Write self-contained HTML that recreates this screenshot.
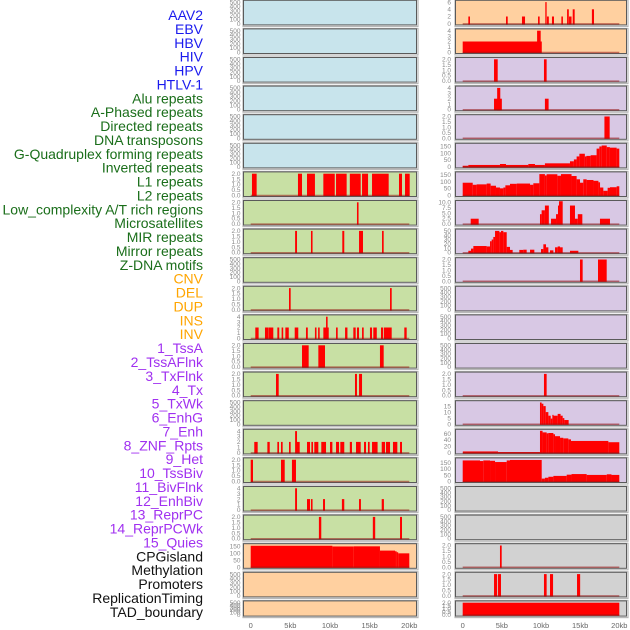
<!DOCTYPE html>
<html><head><meta charset="utf-8"><style>
html,body{margin:0;padding:0;background:#fff;}
svg{display:block;font-family:"Liberation Sans",sans-serif;}
</style></head><body>
<svg id="chart" width="630" height="630" viewBox="0 0 630 630" xmlns="http://www.w3.org/2000/svg">
<g id="labels"></g>
<g id="panels"></g>
<g id="xaxes"></g>
</svg>
<script>
const trackLabels = ["AAV2","EBV","HBV","HIV","HPV","HTLV-1","Alu repeats","A-Phased repeats","Directed repeats","DNA transposons","G-Quadruplex forming repeats","Inverted repeats","L1 repeats","L2 repeats","Low_complexity A/T rich regions","Microsatellites","MIR repeats","Mirror repeats","Z-DNA motifs","CNV","DEL","DUP","INS","INV","1_TssA","2_TssAFlnk","3_TxFlnk","4_Tx","5_TxWk","6_EnhG","7_Enh","8_ZNF_Rpts","9_Het","10_TssBiv","11_BivFlnk","12_EnhBiv","13_ReprPC","14_ReprPCWk","15_Quies","CPGisland","Methylation","Promoters","ReplicationTiming","TAD_boundary"];
const labelColors = ["#1a1aee","#1a6e1a","#ffa500","#a030f0","#111111"];
const labelGroups = [6,13,5,15,5];
const xTickValues = [0,5,10,15,20];
const xTickLabels = ["0","5kb","10kb","15kb","20kb"];
const ticksEmpty = [0,100,200,300,400,500];
const ticks2 = [0,0.5,1,1.5,2];
const ticks4 = [0,1,2,3,4];
const ticks6 = [0,2,4,6];
const ticks10 = [0,2.5,5,7.5,10];
const ticks50 = [0,10,20,30,40,50];
const ticks60 = [0,20,40,60];
const ticks15 = [0,5,10,15];
const ticks150 = [0,50,100,150];

// segments: [startKb, endKb, value]
const segAlu = [[0.16,0.75,2],[5.96,6.47,2],[7.1,8.1,2],[9.16,10.6,2],[10.76,12.1,2],[12.5,13.87,2],[14.04,14.8,2],[15.3,17.4,2],[18.7,19.08,2],[19.46,20.05,2]];
const segAPhased = [[13.4,13.6,2]];
const segDirected = [[5.6,5.84,2],[7.6,7.8,2],[11.55,11.8,2],[13.66,14.16,2],[16.56,16.77,2]];
const segGQuad = [[4.83,5.04,2],[17.57,17.78,2]];
const segInverted = [[0.58,1.0,2],[1.8,2.27,2],[2.3,2.85,2],[3.36,3.6,2],[3.9,4.1,2],[4.37,4.8,2],[5.55,6.0,2],[6.97,7.2,2],[8.1,8.3,2],[8.5,8.7,2],[9.16,9.84,2],[9.5,9.7,4],[10.76,10.97,2],[11.9,12.2,2],[12.94,13.24,2],[13.4,13.66,2],[14.04,14.25,2],[15.04,15.3,2],[15.46,15.9,2],[16.43,16.7,2],[16.8,17.78,2],[19.37,19.67,2]];
const segL1 = [[6.47,7.31,2],[8.53,9.37,2],[16.3,16.77,2]];
const segL2 = [[3.19,3.53,2],[13.15,13.4,2],[13.66,14.04,2]];
const segMicrosat = [[0.45,0.88,2],[2.1,2.4,2],[3.36,3.57,2],[3.82,4.03,2],[4.83,5.04,2],[5.6,5.84,4],[5.84,6.18,2],[7.1,7.48,2],[7.65,7.86,2],[8.02,8.53,2],[8.9,9.5,2],[10.0,10.3,2],[10.76,11.14,2],[11.3,11.8,2],[12.5,12.77,2],[13.28,13.87,2],[14.29,14.54,2],[14.79,15.0,2],[15.3,16.0,2],[16.52,16.94,2],[17.06,17.57,2],[17.94,18.49,2],[18.83,19.08,2]];
const segMIR = [[0,0.29,2],[3.82,4.29,2],[5.2,5.71,2]];
const segMirror = [[5.6,5.84,4],[7.1,7.48,2],[7.6,7.8,2],[9.12,9.37,2],[11.5,11.8,2],[13.66,13.9,2],[16.52,16.8,2]];
const segZDNA = [[8.6,8.9,2],[15.4,15.7,2],[18.83,19.08,2]];
const segCNV = [[0,10.3,155],[10.3,13,150],[13,16.3,151],[16.3,18.2,120],[18.2,18.4,115],[18.4,18.6,108],[18.6,20,100]];
const segINS = [[0.72,0.93,2],[5.53,5.75,2],[7.57,7.96,2],[9.62,9.83,2],[10.55,10.72,6],[10.76,11.0,2],[11.4,11.66,2],[12.6,12.8,2],[13.33,13.55,4],[13.58,13.9,2],[14.05,14.3,4],[16.5,16.77,4]];
const segINV = [[0,10.1,2],[9.5,9.96,4]];
const segTssA = [[4.0,4.47,2],[10.38,10.72,2]];
const segTssAFlnk = [[4.0,5.0,2],[4.4,4.8,4],[10.5,10.97,2]];
const segTxFlnk = [[18.1,18.77,2]];
const segTx = [[0,0.72,7],[0.72,4.76,13],[4.76,5.53,20],[5.53,8.38,13],[8.38,9.23,20],[9.23,10.5,13],[10.5,13.7,25],[13.7,14.2,40],[14.2,14.55,54],[14.55,14.9,76],[14.9,15.6,96],[15.6,15.8,76],[15.8,16.34,80],[16.34,17.1,85],[17.1,17.45,134],[17.45,17.75,150],[17.75,18.4,157],[18.4,18.8,145],[18.8,19.66,141],[19.66,20,134]];
const segTxWk = [[0,1.28,92],[1.28,1.78,77],[1.78,3.06,80],[3.06,3.57,86],[3.57,4.25,70],[4.25,4.76,57],[4.76,5.19,51],[5.19,5.45,57],[5.45,6.04,73],[6.04,6.9,84],[6.9,8.6,86],[8.6,9.02,77],[9.02,9.79,88],[9.79,10.5,155],[10.5,10.72,145],[10.72,12.09,154],[12.09,12.55,143],[12.55,13.9,155],[13.9,14.55,141],[14.55,14.98,117],[14.98,15.4,92],[15.4,15.83,117],[15.83,16.7,112],[16.7,17.33,106],[17.33,17.54,95],[17.54,17.96,57],[17.96,18.51,33],[18.51,18.81,55],[18.81,19.66,59],[19.66,20,66]];
const segEnhG = [[1.02,2.04,2.4],[9.87,10.08,4.5],[10.08,10.5,6.3],[10.5,11.0,8.5],[11.28,11.92,2.4],[11.92,12.17,4.5],[12.17,12.3,8.5],[12.3,12.77,10.5],[13.7,14.34,8.5],[14.34,14.7,2.4],[14.7,15.28,4.5],[17.53,18.81,2.4]];
const segEnh = [[0.72,1.06,4],[1.06,1.36,9],[1.36,3.06,15],[3.06,3.49,14],[3.49,3.7,26],[3.7,3.91,30],[3.91,4.13,36],[4.13,4.68,50],[4.68,4.89,47],[4.89,5.19,50],[5.19,5.62,47],[5.62,6.04,13],[6.04,6.38,6],[7.23,7.74,6],[7.74,8.17,6.5],[8.6,9.15,6.5],[10.0,10.3,8],[10.3,10.64,19],[10.64,10.94,12],[11.15,11.58,5],[11.79,12.13,12],[12.13,12.43,14],[12.43,12.77,12],[13.7,14.77,4]];
const segZNF = [[14.98,15.32,2],[17.28,18.39,2]];
const segReprPC = [[10.38,10.72,2]];
const segReprPCWk = [[9.87,10.08,18],[10.08,10.3,17],[10.3,10.6,15],[10.6,10.94,10],[10.94,11.24,7],[11.24,11.45,4.6],[11.45,11.58,7.7],[11.58,12.13,7],[12.13,12.5,8.5],[12.5,12.77,7],[12.77,12.98,5],[12.98,13.53,3.4]];
const segQuies = [[0.02,4.51,4],[4.51,9.87,2],[9.87,10.2,69],[10.2,10.72,64],[10.72,10.94,61],[10.94,11.58,62],[11.58,11.79,58],[11.79,12.43,52],[12.43,12.85,47],[12.85,13.49,45],[13.49,13.83,42],[13.83,18.6,37],[18.6,20,33]];
const segCPG = [[0,2.21,170],[2.21,2.63,165],[2.63,3.49,170],[3.49,4.13,167],[4.13,5.62,157],[5.62,6.04,170],[6.04,10.09,174],[10.09,10.5,22],[10.5,10.94,29],[10.94,11.58,37],[11.58,13.28,44],[13.28,13.9,54],[13.9,15.83,59],[15.83,18.4,52],[18.4,19.0,57],[19.0,20,52]];
const segMeth = [[4.76,4.98,2]];
const segPromoters = [[4.0,4.4,2],[4.51,4.89,2],[10.38,10.72,2],[11.15,11.54,2],[14.6,15.0,2]];
const segTAD = [[0,20,2]];

const fillBlue="#c8e4ec", fillGreen="#c8e0a4", fillPeach="#ffd0a0", fillPurple="#d8c8e4", fillGray="#d2d2d2";
// [column, row, fill, ymax, ticks, segments, name]
const panels = [
 [0,0,fillBlue,500,ticksEmpty,null,"aav2"],[0,1,fillBlue,500,ticksEmpty,null,"ebv"],[0,2,fillBlue,500,ticksEmpty,null,"hbv"],
 [0,3,fillBlue,500,ticksEmpty,null,"hiv"],[0,4,fillBlue,500,ticksEmpty,null,"hpv"],[0,5,fillBlue,500,ticksEmpty,null,"htlv1"],
 [0,6,fillGreen,2,ticks2,segAlu,"alu"],[0,7,fillGreen,2,ticks2,segAPhased,"a-phased"],[0,8,fillGreen,2,ticks2,segDirected,"directed"],
 [0,9,fillGreen,500,ticksEmpty,null,"dna-transposons"],[0,10,fillGreen,2,ticks2,segGQuad,"g-quadruplex"],[0,11,fillGreen,4,ticks4,segInverted,"inverted"],
 [0,12,fillGreen,2,ticks2,segL1,"l1"],[0,13,fillGreen,2,ticks2,segL2,"l2"],[0,14,fillGreen,500,ticksEmpty,null,"low-complexity"],
 [0,15,fillGreen,4,ticks4,segMicrosat,"microsatellites"],[0,16,fillGreen,2,ticks2,segMIR,"mir"],[0,17,fillGreen,4,ticks4,segMirror,"mirror"],
 [0,18,fillGreen,2,ticks2,segZDNA,"z-dna"],[0,19,fillPeach,157,ticks150,segCNV,"cnv"],[0,20,fillPeach,500,ticksEmpty,null,"del"],[0,21,fillPeach,500,ticksEmpty,null,"dup"],
 [1,0,fillPeach,6,ticks6,segINS,"ins"],[1,1,fillPeach,4,ticks4,segINV,"inv"],[1,2,fillPurple,2,ticks2,segTssA,"tssa"],
 [1,3,fillPurple,4,ticks4,segTssAFlnk,"tssaflnk"],[1,4,fillPurple,2,ticks2,segTxFlnk,"txflnk"],[1,5,fillPurple,160,ticks150,segTx,"tx"],
 [1,6,fillPurple,158,ticks150,segTxWk,"txwk"],[1,7,fillPurple,10,ticks10,segEnhG,"enhg"],[1,8,fillPurple,50,ticks50,segEnh,"enh"],
 [1,9,fillPurple,2,ticks2,segZNF,"znf-rpts"],[1,10,fillPurple,500,ticksEmpty,null,"het"],[1,11,fillPurple,500,ticksEmpty,null,"tssbiv"],
 [1,12,fillPurple,500,ticksEmpty,null,"bivflnk"],[1,13,fillPurple,2,ticks2,segReprPC,"enhbiv"],[1,14,fillPurple,18,ticks15,segReprPCWk,"reprpc"],
 [1,15,fillPurple,68,ticks60,segQuies,"reprpcwk"],[1,16,fillPurple,176,ticks150,segCPG,"quies"],[1,17,fillGray,500,ticksEmpty,null,"cpgisland"],
 [1,18,fillGray,500,ticksEmpty,null,"methylation"],[1,19,fillGray,2,ticks2,segMeth,"promoters"],[1,20,fillGray,2,ticks2,segPromoters,"replication-timing"],
 [1,21,fillGray,2,ticks2,segTAD,"tad-boundary"]
];

const NS="http://www.w3.org/2000/svg";
function mk(tag,attrs,parent){const e=document.createElementNS(NS,tag);for(const k in attrs)e.setAttribute(k,attrs[k]);parent.appendChild(e);return e;}
const colX=[[243.5,416.5],[455.5,626.5]];
const colX0=[250.7,462.7], colScale=[7.93,7.83];
function xScale(col,kb){return colX0[col]+kb*colScale[col];}
function rowTop(r){return 0.3+r*28.6;}
function rowH(r){return r===21?15.2:24.6;}

// labels
const gL=document.getElementById('labels');
let gi=0,cnt=0;
trackLabels.forEach((t,i)=>{
  const tx=mk('text',{x:203,y:15+i*13.88+5,'text-anchor':'end','font-size':'14',fill:labelColors[gi]},gL);
  tx.textContent=t;
  
  
  cnt++; if(cnt>=labelGroups[gi]){gi++;cnt=0;}
});

const gP=document.getElementById('panels');
panels.forEach(p=>{
  const [col,row,fill,ymax,ticks,segs,name]=p;
  const g=mk('g',{},gP);
  
  
  const x0=colX[col][0],x1=colX[col][1],top=rowTop(row),h=rowH(row),bot=top+h;
  const shadow=mk('rect',{x:x0-0.5,y:top-0.5,width:x1-x0+2,height:h+2,fill:'none',stroke:'#b8b8b8','stroke-width':1.2},g);
  
  
  const bg=mk('rect',{x:x0,y:top,width:x1-x0,height:h,fill:fill,stroke:'#5a5a5a','stroke-width':1},g);
  
  
  const yS=v=>bot-1.2-v/ymax*(h-3);
  ticks.forEach(t=>{
    const tt=mk('text',{x:col===0?240.5:451,y:yS(t)+2.2,'text-anchor':'end','font-size':'6.5',fill:'#8a8a8a'},g);
    tt.textContent=String(ymax<=10&&ticks!==ticks4&&ticks!==ticks6?t.toFixed(1):t);
    
    
  });
  if(segs){
    segs.forEach(s=>{
      const xa=Math.max(xScale(col,s[0]),x0+0.5), xb=Math.min(xScale(col,s[1]),x1-0.5);
      const b=mk('rect',{x:xa,y:yS(s[2]),width:Math.max(xb-xa,1.2),height:yS(0)-yS(s[2])+0.7,fill:'#ff0000'},g);
      
      
    });
    const bl=mk('line',{x1:xScale(col,0),x2:xScale(col,20),y1:bot-1,y2:bot-1,stroke:'rgba(150,20,20,0.55)','stroke-width':1.5},g);
    
    
  }
});

const gX=document.getElementById('xaxes');
[0,1].forEach(col=>{
  xTickValues.forEach((v,i)=>{
    const t=mk('text',{x:xScale(col,v),y:628,'text-anchor':'middle','font-size':'7.5',fill:'#666'},gX);
    t.textContent=xTickLabels[i];
    
    
  });
});
</script>
</body></html>
